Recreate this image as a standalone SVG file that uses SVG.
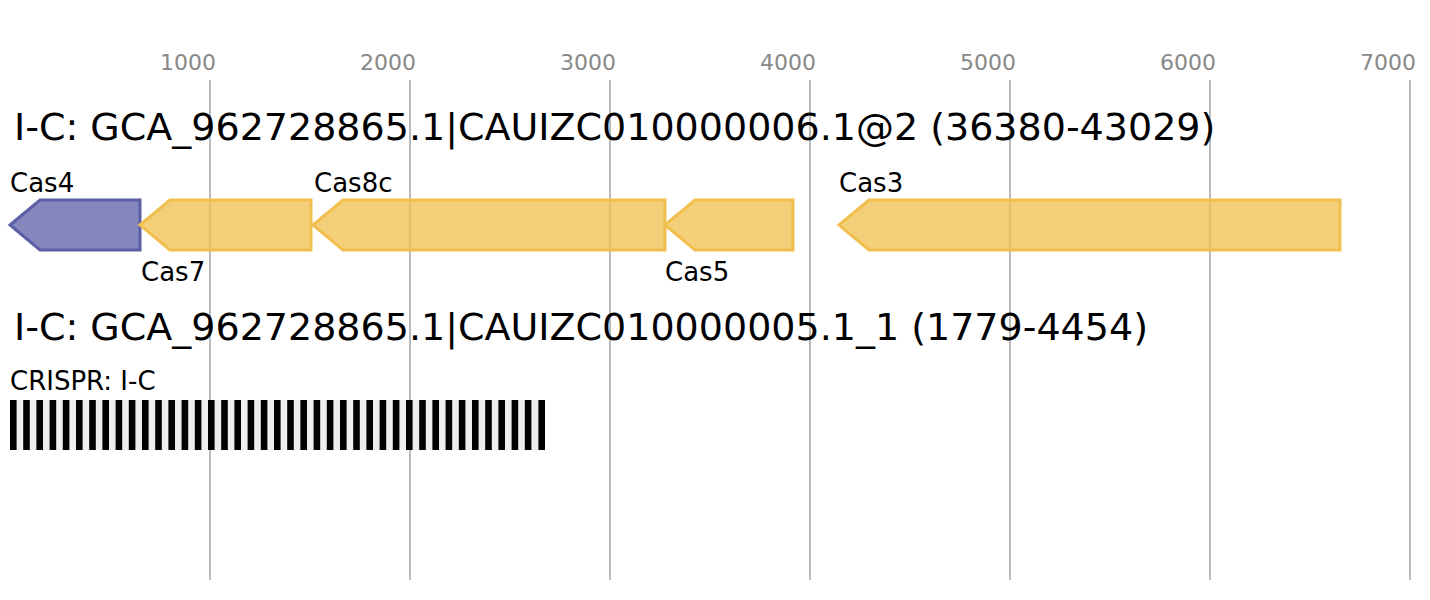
<svg xmlns="http://www.w3.org/2000/svg" width="1430" height="600" viewBox="0 0 1430 600">
<style>
.grid{stroke:#bbbbbb;stroke-width:2}
.tick{font-family:"DejaVu Sans",sans-serif;font-size:22px;fill:#888888;text-anchor:middle}
.title{font-family:"DejaVu Sans",sans-serif;font-size:38px;fill:#000}
.lbl{font-family:"DejaVu Sans",sans-serif;font-size:26px;fill:#000}
.blue{fill:#5c5ea6;fill-opacity:0.75;stroke:#5c5ea6;stroke-width:3}
.yellow{fill:#f0bf4d;fill-opacity:0.75;stroke:#f0bf4d;stroke-width:3}
.rep{fill:#000}
</style>
<rect width="1430" height="600" fill="#fff"/>
<g id="axis">
<line class="grid" x1="210" y1="80" x2="210" y2="580"/>
<line class="grid" x1="410" y1="80" x2="410" y2="580"/>
<line class="grid" x1="610" y1="80" x2="610" y2="580"/>
<line class="grid" x1="810" y1="80" x2="810" y2="580"/>
<line class="grid" x1="1010" y1="80" x2="1010" y2="580"/>
<line class="grid" x1="1210" y1="80" x2="1210" y2="580"/>
<line class="grid" x1="1410" y1="80" x2="1410" y2="580"/>
<text class="tick" x="188" y="70">1000</text>
<text class="tick" x="388" y="70">2000</text>
<text class="tick" x="588" y="70">3000</text>
<text class="tick" x="788" y="70">4000</text>
<text class="tick" x="988" y="70">5000</text>
<text class="tick" x="1188" y="70">6000</text>
<text class="tick" x="1388" y="70">7000</text>
</g>
<text class="title" x="14" y="140">I-C: GCA_962728865.1|CAUIZC010000006.1@2 (36380-43029)</text>
<text class="title" x="14" y="340">I-C: GCA_962728865.1|CAUIZC010000005.1_1 (1779-4454)</text>
<g id="cas4"><polygon class="blue" points="10,225 40,200 140,200 140,250 40,250"/><text class="lbl" x="10" y="192">Cas4</text></g>
<g id="cas7"><polygon class="yellow" points="140,225 170,200 311,200 311,250 170,250"/><text class="lbl" x="141" y="281">Cas7</text></g>
<g id="cas8c"><polygon class="yellow" points="313,225 343,200 665,200 665,250 343,250"/><text class="lbl" x="314" y="192">Cas8c</text></g>
<g id="cas5"><polygon class="yellow" points="665,225 695,200 793,200 793,250 695,250"/><text class="lbl" x="665" y="281">Cas5</text></g>
<g id="cas3"><polygon class="yellow" points="839,225 869,200 1340,200 1340,250 869,250"/><text class="lbl" x="839" y="192">Cas3</text></g>
<g id="crispr">
<text class="lbl" x="10" y="390">CRISPR: I-C</text>
<rect x="10" y="400" width="535" height="50" fill="#eeeeee"/>
<rect class="rep" x="10" y="400" width="6.6" height="50"/><rect class="rep" x="23.2" y="400" width="6.6" height="50"/><rect class="rep" x="36.4" y="400" width="6.6" height="50"/><rect class="rep" x="49.6" y="400" width="6.6" height="50"/><rect class="rep" x="62.8" y="400" width="6.6" height="50"/><rect class="rep" x="76" y="400" width="6.6" height="50"/><rect class="rep" x="89.2" y="400" width="6.6" height="50"/><rect class="rep" x="102.4" y="400" width="6.6" height="50"/><rect class="rep" x="115.6" y="400" width="6.6" height="50"/><rect class="rep" x="128.8" y="400" width="6.6" height="50"/><rect class="rep" x="142" y="400" width="6.6" height="50"/><rect class="rep" x="155.2" y="400" width="6.6" height="50"/><rect class="rep" x="168.4" y="400" width="6.6" height="50"/><rect class="rep" x="181.6" y="400" width="6.6" height="50"/><rect class="rep" x="194.8" y="400" width="6.6" height="50"/><rect class="rep" x="208" y="400" width="6.6" height="50"/><rect class="rep" x="221.2" y="400" width="6.6" height="50"/><rect class="rep" x="234.4" y="400" width="6.6" height="50"/><rect class="rep" x="247.6" y="400" width="6.6" height="50"/><rect class="rep" x="260.8" y="400" width="6.6" height="50"/><rect class="rep" x="274" y="400" width="6.6" height="50"/><rect class="rep" x="287.2" y="400" width="6.6" height="50"/><rect class="rep" x="300.4" y="400" width="6.6" height="50"/><rect class="rep" x="313.6" y="400" width="6.6" height="50"/><rect class="rep" x="326.8" y="400" width="6.6" height="50"/><rect class="rep" x="340" y="400" width="6.6" height="50"/><rect class="rep" x="353.2" y="400" width="6.6" height="50"/><rect class="rep" x="366.4" y="400" width="6.6" height="50"/><rect class="rep" x="379.6" y="400" width="6.6" height="50"/><rect class="rep" x="392.8" y="400" width="6.6" height="50"/><rect class="rep" x="406" y="400" width="6.6" height="50"/><rect class="rep" x="419.2" y="400" width="6.6" height="50"/><rect class="rep" x="432.4" y="400" width="6.6" height="50"/><rect class="rep" x="445.6" y="400" width="6.6" height="50"/><rect class="rep" x="458.8" y="400" width="6.6" height="50"/><rect class="rep" x="472" y="400" width="6.6" height="50"/><rect class="rep" x="485.2" y="400" width="6.6" height="50"/><rect class="rep" x="498.4" y="400" width="6.6" height="50"/><rect class="rep" x="511.6" y="400" width="6.6" height="50"/><rect class="rep" x="524.8" y="400" width="6.6" height="50"/><rect class="rep" x="538.4" y="400" width="6.6" height="50"/>
</g>
</svg>
